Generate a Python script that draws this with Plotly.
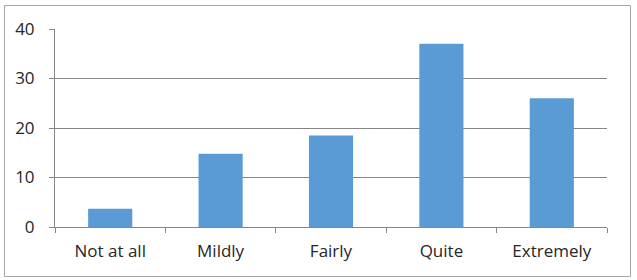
import plotly.graph_objects as go

categories = ["Not at all", "Mildly", "Fairly", "Quite", "Extremely"]
values = [3.7, 14.8, 18.5, 37.0, 26.0]
y_ticks = [0, 10, 20, 30, 40]

W, H = 637, 280
L, R, T, B = 55, 30, 29, 53
pw, ph = W - L - R, H - T - B

fig = go.Figure(go.Bar(x=categories, y=values, marker_color="#5B9BD5",
                       marker_line_width=0))

font = dict(family="Open Sans, sans-serif", size=17, color="#262626")

fig.update_layout(
    width=W, height=H, margin=dict(l=L, r=R, t=T, b=B),
    paper_bgcolor="white", plot_bgcolor="white",
    bargap=0.6, showlegend=False, font=font,
    xaxis=dict(showgrid=False, showline=True, linecolor="#868686", linewidth=1,
               ticks="outside", tickson="boundaries", ticklen=5, tickcolor="#868686",
               ticklabelstandoff=9, fixedrange=True),
    yaxis=dict(range=[0, 40], tickvals=y_ticks, showgrid=True, gridcolor="#868686",
               gridwidth=1, showline=True, linecolor="#868686", linewidth=1,
               ticks="outside", ticklen=5, tickcolor="#868686",
               ticklabelstandoff=11, zeroline=False, fixedrange=True),
)

fig.add_shape(type="rect", xref="paper", yref="paper",
              x0=(4.5 - L) / pw, x1=(630.5 - L) / pw,
              y0=(H - 276.5 - B) / ph, y1=(H - 5.5 - B) / ph,
              line=dict(color="#A6A6A6", width=1), layer="below")

fig.write_html("out.html")
